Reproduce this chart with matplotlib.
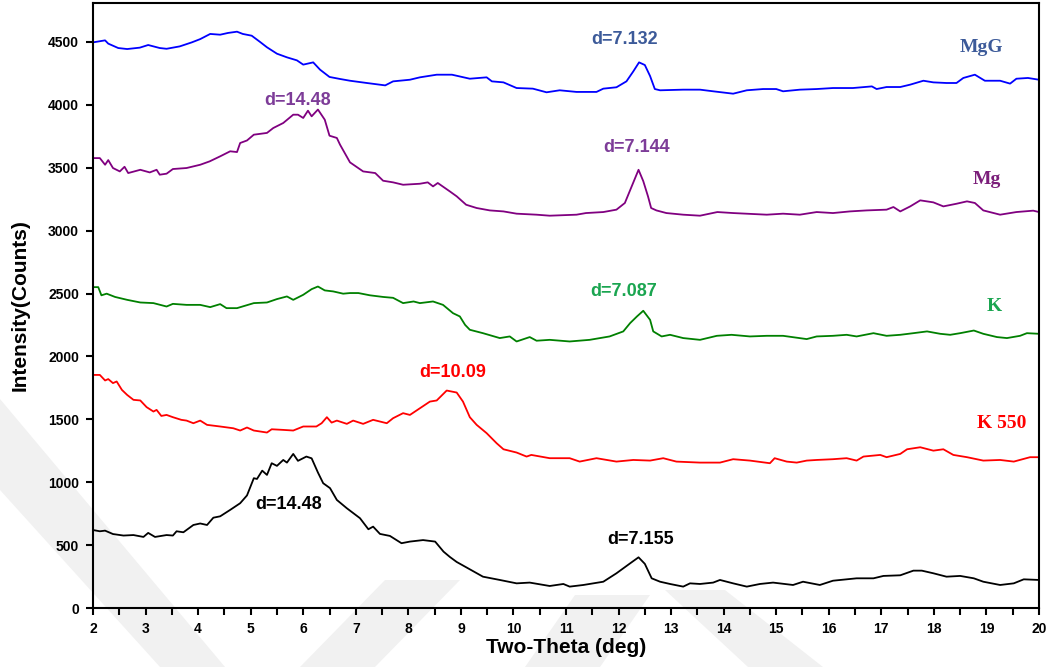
import matplotlib
matplotlib.use("Agg")
import matplotlib.pyplot as plt
from matplotlib.patches import Polygon
from matplotlib.ticker import MultipleLocator

plt.rcParams['font.family'] = ['Liberation Sans', 'DejaVu Sans']

# two-theta / intensity, one pair of lists per sample
tt_mgg = [2.0, 2.23, 2.29, 2.48, 2.65, 2.89, 3.05, 3.27, 3.4, 3.65,
          3.88, 4.04, 4.23, 4.42, 4.57, 4.74, 4.85, 5.02, 5.18, 5.31,
          5.5, 5.69, 5.88, 6.0, 6.19, 6.32, 6.5, 6.7, 6.89, 7.21,
          7.56, 7.71, 8.03, 8.22, 8.54, 8.83, 9.17, 9.49, 9.59, 9.81,
          10.06, 10.37, 10.63, 10.88, 11.2, 11.58, 11.71, 11.96, 12.15, 12.28,
          12.39, 12.5, 12.6, 12.69, 12.79, 13.23, 13.55, 13.8, 14.18, 14.44,
          14.75, 15.0, 15.13, 15.45, 15.77, 16.08, 16.46, 16.82, 16.91, 17.1,
          17.36, 17.55, 17.8, 17.99, 18.24, 18.43, 18.56, 18.78, 18.97, 19.26,
          19.45, 19.57, 19.79, 20.0]
i_mgg = [4497, 4513, 4487, 4452, 4444, 4455, 4476, 4452, 4446, 4465,
         4497, 4523, 4564, 4558, 4572, 4582, 4564, 4550, 4500, 4458,
         4407, 4378, 4354, 4320, 4338, 4280, 4222, 4206, 4192, 4174,
         4155, 4187, 4200, 4219, 4240, 4240, 4208, 4219, 4187, 4179,
         4134, 4129, 4100, 4116, 4103, 4103, 4129, 4140, 4187, 4266,
         4338, 4317, 4229, 4126, 4116, 4121, 4121, 4108, 4089, 4116,
         4126, 4126, 4108, 4121, 4126, 4134, 4134, 4147, 4126, 4142,
         4142, 4161, 4192, 4179, 4174, 4174, 4214, 4240, 4192, 4192,
         4169, 4208, 4214, 4200]

tt_mg = [2.0, 2.13, 2.23, 2.29, 2.38, 2.51, 2.6, 2.67, 2.9, 3.08,
         3.21, 3.27, 3.4, 3.52, 3.78, 4.04, 4.22, 4.42, 4.61, 4.74,
         4.8, 4.93, 5.06, 5.31, 5.43, 5.62, 5.81, 5.9, 6.0, 6.09,
         6.16, 6.28, 6.41, 6.5, 6.64, 6.7, 6.89, 7.14, 7.37, 7.52,
         7.71, 7.9, 8.22, 8.37, 8.47, 8.56, 8.79, 8.92, 9.1, 9.3,
         9.55, 9.81, 10.06, 10.44, 10.69, 11.2, 11.38, 11.71, 11.96, 12.12,
         12.25, 12.38, 12.47, 12.56, 12.62, 12.72, 12.91, 13.23, 13.55, 13.88,
         14.18, 14.82, 15.13, 15.45, 15.77, 16.08, 16.4, 16.72, 17.1, 17.23,
         17.36, 17.55, 17.74, 17.99, 18.18, 18.43, 18.63, 18.78, 18.94, 19.26,
         19.57, 19.89, 20.0]
i_mg = [3577, 3577, 3524, 3561, 3498, 3471, 3508, 3458, 3484, 3463,
        3484, 3445, 3453, 3490, 3498, 3524, 3551, 3591, 3631, 3625,
        3697, 3717, 3763, 3777, 3816, 3856, 3922, 3922, 3896, 3954,
        3909, 3963, 3882, 3755, 3737, 3684, 3543, 3471, 3458, 3397,
        3384, 3365, 3373, 3384, 3352, 3379, 3312, 3273, 3206, 3180,
        3161, 3153, 3135, 3127, 3119, 3127, 3140, 3148, 3167, 3220,
        3352, 3484, 3394, 3273, 3180, 3161, 3140, 3127, 3119, 3148,
        3140, 3127, 3135, 3127, 3148, 3140, 3153, 3161, 3167, 3188,
        3153, 3193, 3241, 3225, 3193, 3214, 3233, 3220, 3161, 3127,
        3148, 3159, 3148]

tt_k = [2.0, 2.1, 2.16, 2.26, 2.42, 2.65, 2.9, 3.15, 3.4, 3.52,
        3.78, 4.04, 4.23, 4.42, 4.54, 4.74, 5.06, 5.31, 5.5, 5.69,
        5.81, 6.0, 6.16, 6.28, 6.41, 6.57, 6.76, 6.89, 7.05, 7.27,
        7.52, 7.71, 7.9, 8.1, 8.22, 8.47, 8.66, 8.85, 8.98, 9.08,
        9.17, 9.42, 9.74, 9.93, 10.06, 10.31, 10.44, 10.69, 11.07, 11.45,
        11.83, 12.09, 12.22, 12.35, 12.47, 12.6, 12.66, 12.82, 12.98, 13.23,
        13.55, 13.87, 14.15, 14.5, 14.82, 15.13, 15.58, 15.77, 16.08, 16.34,
        16.53, 16.85, 17.1, 17.36, 17.61, 17.87, 18.12, 18.31, 18.5, 18.76,
        18.94, 19.2, 19.39, 19.64, 19.77, 20.0]
i_k = [2551, 2551, 2486, 2499, 2473, 2450, 2429, 2424, 2397, 2418,
       2410, 2410, 2392, 2416, 2384, 2384, 2424, 2429, 2456, 2477,
       2450, 2490, 2535, 2556, 2525, 2517, 2499, 2504, 2504, 2486,
       2473, 2466, 2424, 2437, 2424, 2437, 2410, 2344, 2318, 2251,
       2212, 2185, 2146, 2159, 2119, 2154, 2125, 2132, 2119, 2132,
       2159, 2199, 2265, 2318, 2363, 2291, 2199, 2159, 2172, 2146,
       2132, 2164, 2172, 2159, 2164, 2164, 2138, 2159, 2164, 2172,
       2159, 2185, 2164, 2172, 2185, 2199, 2180, 2172, 2185, 2206,
       2180, 2154, 2146, 2164, 2185, 2180]

tt_k550 = [2.0, 2.13, 2.23, 2.29, 2.38, 2.45, 2.55, 2.65, 2.77, 2.9,
           3.02, 3.15, 3.21, 3.3, 3.4, 3.52, 3.68, 3.78, 3.91, 4.04,
           4.17, 4.42, 4.67, 4.8, 4.93, 5.06, 5.31, 5.4, 5.62, 5.81,
           6.0, 6.25, 6.35, 6.45, 6.54, 6.64, 6.83, 6.95, 7.14, 7.33,
           7.59, 7.71, 7.9, 8.03, 8.22, 8.41, 8.54, 8.73, 8.92, 9.04,
           9.17, 9.3, 9.49, 9.68, 9.81, 10.06, 10.25, 10.34, 10.69, 11.07,
           11.26, 11.58, 11.96, 12.28, 12.6, 12.85, 13.1, 13.55, 13.93, 14.18,
           14.5, 14.88, 14.97, 15.2, 15.39, 15.58, 15.77, 16.08, 16.34, 16.53,
           16.66, 16.98, 17.1, 17.36, 17.49, 17.74, 17.99, 18.18, 18.37, 18.63,
           18.94, 19.26, 19.52, 19.83, 20.0]
i_k550 = [1853, 1853, 1809, 1820, 1788, 1801, 1734, 1694, 1655, 1650,
          1597, 1562, 1575, 1527, 1535, 1517, 1496, 1490, 1469, 1490,
          1456, 1443, 1429, 1411, 1435, 1411, 1395, 1421, 1416, 1411,
          1443, 1443, 1469, 1517, 1474, 1490, 1464, 1490, 1464, 1496,
          1469, 1509, 1549, 1535, 1588, 1641, 1650, 1729, 1713, 1641,
          1517, 1456, 1390, 1310, 1262, 1236, 1204, 1217, 1191, 1191,
          1164, 1191, 1164, 1177, 1172, 1191, 1164, 1156, 1156, 1183,
          1172, 1151, 1191, 1164, 1156, 1172, 1177, 1183, 1191, 1172,
          1204, 1217, 1199, 1225, 1262, 1278, 1251, 1262, 1217, 1199,
          1172, 1177, 1164, 1199, 1199]

tt_raw = [2.0, 2.13, 2.23, 2.38, 2.58, 2.77, 2.96, 3.05, 3.18, 3.4,
          3.52, 3.59, 3.72, 3.91, 4.04, 4.17, 4.29, 4.42, 4.61, 4.8,
          4.93, 5.06, 5.12, 5.22, 5.31, 5.4, 5.5, 5.62, 5.69, 5.81,
          5.9, 6.06, 6.16, 6.28, 6.38, 6.51, 6.64, 6.83, 7.08, 7.24,
          7.33, 7.46, 7.65, 7.87, 8.03, 8.28, 8.51, 8.67, 8.79, 8.92,
          9.1, 9.42, 9.74, 10.06, 10.31, 10.69, 10.95, 11.07, 11.33, 11.71,
          11.96, 12.22, 12.38, 12.5, 12.63, 12.79, 12.98, 13.23, 13.36, 13.55,
          13.8, 13.93, 14.18, 14.44, 14.69, 14.94, 15.32, 15.51, 15.83, 16.08,
          16.34, 16.53, 16.85, 17.04, 17.36, 17.61, 17.77, 17.99, 18.24, 18.5,
          18.76, 18.94, 19.26, 19.52, 19.71, 20.0]
i_raw = [620, 610, 615, 588, 576, 580, 565, 597, 565, 580,
         576, 610, 602, 660, 672, 660, 718, 729, 780, 833,
         895, 1032, 1026, 1092, 1058, 1151, 1130, 1177, 1156, 1225,
         1170, 1204, 1190, 1077, 992, 953, 859, 793, 714, 626,
         647, 589, 573, 515, 528, 540, 528, 448, 406, 366,
         324, 249, 223, 196, 202, 175, 191, 170, 183, 209,
         276, 355, 403, 351, 236, 209, 191, 170, 196, 191,
         202, 223, 196, 170, 191, 202, 183, 209, 183, 217,
         228, 236, 236, 255, 260, 297, 297, 276, 249, 255,
         236, 209, 183, 196, 228, 223]

series = [
    (tt_mgg, i_mgg, '#0000ff'),
    (tt_mg, i_mg, '#800080'),
    (tt_k, i_k, '#008000'),
    (tt_k550, i_k550, '#ff0000'),
    (tt_raw, i_raw, '#000000'),
]

# d-spacing labels: text, two-theta, intensity, colour
d_labels = [
    ('d=7.132', 12.12, 4520, '#3c5a99'),
    ('d=14.48', 5.89, 4033, '#7d3c98'),
    ('d=7.144', 12.34, 3660, '#7d3c98'),
    ('d=7.087', 12.10, 2514, '#1aa550'),
    ('d=10.09', 8.84, 1872, '#ff0000'),
    ('d=14.48', 5.72, 819, '#000000'),
    ('d=7.155', 12.41, 546, '#000000'),
]
# sample names
sample_labels = [
    ('MgG', 18.91, 4455, '#3c5a99'),
    ('Mg', 19.00, 3405, '#7b1e7a'),
    ('K', 19.14, 2394, '#1aa550'),
    ('K 550', 19.29, 1469, '#ff0000'),
]

W, H = 1050, 667
fig = plt.figure(figsize=(W / 100, H / 100), dpi=100)

# faint watermark bands behind the plot (figure pixels, y from top)
bands = [
    [(0, 399), (225, 667), (160, 667), (0, 490)],
    [(300, 667), (375, 667), (460, 580), (385, 580)],
    [(525, 667), (600, 667), (650, 595), (575, 595)],
    [(665, 590), (725, 590), (823, 667), (748, 667)],
]
for b in bands:
    pts = [(x / W, 1 - y / H) for x, y in b]
    fig.patches.append(Polygon(pts, closed=True, transform=fig.transFigure,
                               facecolor='#f1f1f1', edgecolor='none', zorder=0))

ax = fig.add_axes([93 / W, 59 / H, 946 / W, 605 / H])
ax.set_facecolor('none')
ax.set_zorder(2)

for tt, inten, col in series:
    ax.plot(tt, inten, color=col, lw=1.3)

for txt, x, y, col in d_labels:
    ax.text(x, y, txt, color=col, fontsize=13, fontweight='bold',
            ha='center', va='center')
for txt, x, y, col in sample_labels:
    ax.text(x, y, txt, color=col, fontsize=14, fontweight='bold',
            family=['Liberation Serif', 'DejaVu Serif'], ha='center', va='center')

ax.set_xlim(2, 20)
ax.set_ylim(0, 4810)
ax.xaxis.set_major_locator(MultipleLocator(1))
ax.xaxis.set_minor_locator(MultipleLocator(0.5))
ax.yaxis.set_major_locator(MultipleLocator(500))
ax.tick_params(axis='both', which='both', direction='out', width=1.5,
               labelsize=10, pad=5)
ax.tick_params(axis='both', which='major', length=5)
ax.tick_params(axis='x', which='minor', length=5)
for lab in ax.get_xticklabels() + ax.get_yticklabels():
    lab.set_fontweight('bold')
for sp in ax.spines.values():
    sp.set_linewidth(1.5)

ax.set_xlabel('Two-Theta (deg)', fontsize=15, fontweight='bold')
ax.set_ylabel('Intensity(Counts)', fontsize=15, fontweight='bold')
ax.xaxis.set_label_coords(0.5, -0.05)
ax.yaxis.set_label_coords(-0.067, 0.5)

fig.savefig('out.png', dpi=100)
